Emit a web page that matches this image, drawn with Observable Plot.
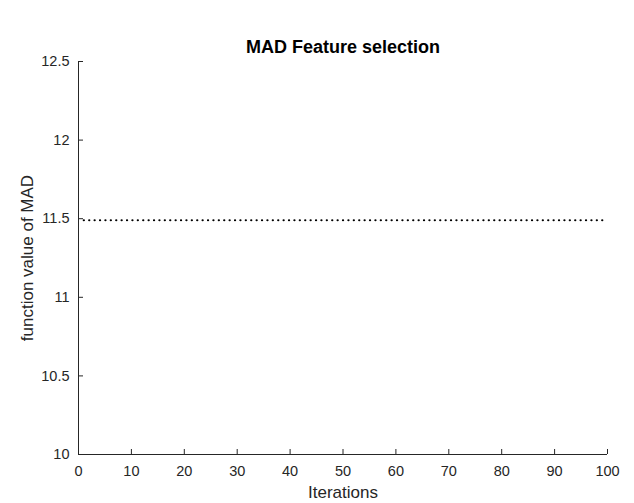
<!DOCTYPE html>
<html>
<head>
<meta charset="utf-8">
<script src="https://cdn.jsdelivr.net/npm/d3@7"></script>
<script src="https://cdn.jsdelivr.net/npm/@observablehq/plot@0.6"></script>
<style>
  html, body { margin: 0; padding: 0; background: #fff; }
  svg { display: block; }
</style>
</head>
<body>
<div id="chart"></div>
<script>
const iterations = d3.range(1, 101);
const madValues = iterations.map(() => 11.49);
const xTicks = [0, 10, 20, 30, 40, 50, 60, 70, 80, 90, 100];
const yTicks = [10, 10.5, 11, 11.5, 12, 12.5];
const yTickLabels = ["10", "10.5", "11", "11.5", "12", "12.5"];
const titleText = "MAD Feature selection";
const xLabel = "Iterations";
const yLabel = "function value of MAD";

const data = iterations.map((it, i) => ({it, v: madValues[i]}));

const W = 634, H = 503;
const mt = 61, mb = 49, ml = 78, mr = 27;
const frameH = H - mt - mb, frameW = W - ml - mr;
const axisColor = "#262626";
const font = "Liberation Sans, Arial, sans-serif";

const plot = Plot.plot({
  width: W, height: H,
  marginTop: mt, marginBottom: mb, marginLeft: ml, marginRight: mr,
  style: {fontFamily: font, fontSize: "14px", color: axisColor, background: "#fff"},
  x: {domain: [0, 100]},
  y: {domain: [10, 12.5]},
  marks: [
    Plot.axisX({ticks: xTicks, tickSize: 0, tickPadding: 11, fontSize: 14.5, label: null, fill: axisColor}),
    Plot.axisY({ticks: yTicks, tickFormat: (d) => yTickLabels[yTicks.indexOf(d)], tickSize: 0, tickPadding: 9, fontSize: 14.5, label: null, fill: axisColor}),
    Plot.tickX(xTicks, {x: d => d, insetTop: frameH - 5, stroke: axisColor, strokeWidth: 1}),
    Plot.tickY(yTicks, {y: d => d, insetRight: frameW - 5, stroke: axisColor, strokeWidth: 1}),
    Plot.ruleY([10], {stroke: axisColor, strokeWidth: 1}),
    Plot.ruleX([0], {stroke: axisColor, strokeWidth: 1}),
    Plot.line(data, {x: "it", y: "v", stroke: "#000", strokeWidth: 2.2, strokeDasharray: "0.1,5.3", strokeLinecap: "round"}),
    Plot.text([titleText], {frameAnchor: "top", dy: -mt + 47, text: d => d, fontWeight: "bold", fontSize: 18, fill: "#000", lineAnchor: "middle", textAnchor: "middle"}),
    Plot.text([xLabel], {frameAnchor: "bottom", dy: 38, text: d => d, fontSize: 17, fill: axisColor, lineAnchor: "middle", textAnchor: "middle"}),
    Plot.text([yLabel], {frameAnchor: "left", dx: -51, text: d => d, rotate: -90, fontSize: 17, fill: axisColor, lineAnchor: "middle", textAnchor: "middle"})
  ]
});
document.getElementById("chart").appendChild(plot);
</script>
</body>
</html>
